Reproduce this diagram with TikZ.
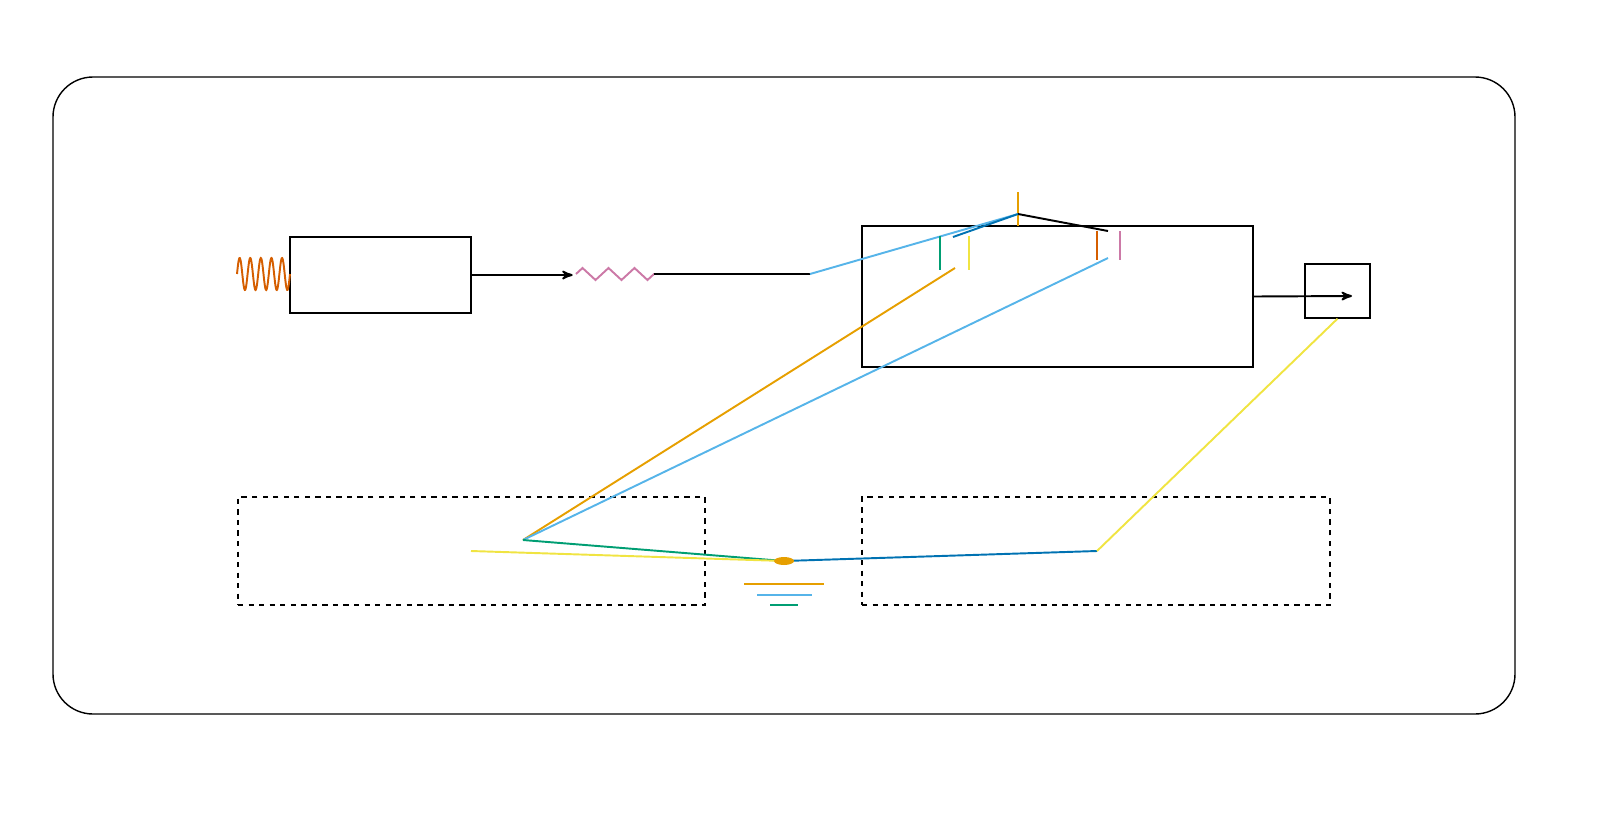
\documentclass[tikz,border=0pt]{standalone}
\usetikzlibrary{arrows,decorations.pathmorphing}
\definecolor{cOrange}{RGB}{213,94,0}
\definecolor{cGold}{RGB}{230,159,0}
\definecolor{cSky}{RGB}{86,180,233}
\definecolor{cGreen}{RGB}{0,158,115}
\definecolor{cYellow}{RGB}{240,228,66}
\definecolor{cBlue}{RGB}{0,114,178}
\definecolor{cPink}{RGB}{204,121,167}
\begin{document}
\begin{tikzpicture}[x=0.02cm,y=-0.02cm,>=stealth',line width=1.2pt]
\tikzset{
    blk/.style={%
        draw, thick,
        rectangle,
        inner sep=0pt
        },
    grp/.style={%
        draw, dashed, line width=0.7pt,
        rectangle,
        inner sep=0pt
        },
    wire/.style={line width=1.1pt},
}
\useasboundingbox (0,0) rectangle (1620,819);
%%%FRAME
\draw[line width=0.8pt, rounded corners=0.8cm] (53,77) rectangle (1515,714);
%%%BLOCKS
\node[blk, minimum width=3.62cm, minimum height=1.52cm] (src) at (380.5,275) {};
\node[blk, minimum width=7.82cm, minimum height=2.82cm] (mix) at (1057.5,296.5) {};
\node[blk, minimum width=1.3cm, minimum height=1.08cm] (out) at (1337.5,291) {};
\node[grp, minimum width=9.34cm, minimum height=2.16cm] (g1) at (471.5,551) {};
\node[grp, minimum width=9.36cm, minimum height=2.16cm] (g2) at (1096,551) {};
%%%POINTS
\coordinate (coil) at (237,274);
\coordinate (rin) at (576,274);
\coordinate (rout) at (654,274);
\coordinate (tap) at (810,274);
\coordinate (piv) at (1018,214);
\coordinate (arm) at (1108,231);
\coordinate (blade) at (953,237);
\coordinate (hubA) at (523,540);
\coordinate (gnd) at (784,561);
\coordinate (hubB) at (1097,551);
\coordinate (yl) at (471,551);
%%%COIL AND RESISTOR
\draw[cOrange, wire, domain=0:53, samples=150, smooth]
  plot ({237+\x}, {274-16*sin(\x*33.96)});
\draw[->, wire] (src.east) -- ++(101,0);
\draw[cPink, wire, decorate, decoration={zigzag, segment length=0.52cm, amplitude=0.12cm}] (rin) -- (rout);
\draw[wire] (rout) -- (tap);
%%%SWITCH
\draw[cSky, wire] (tap) -- (piv);
\draw[cGold, wire] (1018,192) -- (1018,226);
\draw[wire] (piv) -- (arm);
\draw[cBlue, wire] (blade) -- (piv);
\draw[cGreen, wire] (940,236) -- (940,270);
\draw[cYellow, wire] (969,236) -- (969,270);
\draw[cOrange, wire] (1097,231) -- (1097,260);
\draw[cPink, wire] (1120,231) -- (1120,260);
%%%LINKS
\draw[cGold, wire] (955,268) -- (hubA);
\draw[cSky, wire] (1108,258) -- (hubA);
\draw[cGreen, wire] (hubA) -- (gnd);
\draw[cYellow, wire] (yl) -- (gnd);
\draw[cBlue, wire] (gnd) -- (hubB);
\draw[cYellow, wire] (hubB) -- (out.south);
\fill[cGold] (gnd) ellipse (10 and 4);
%%%GROUND
\draw[cGold, wire] (744,584) -- (824,584);
\draw[cSky, wire] (757,595) -- (812,595);
\draw[cGreen, wire] (770,605) -- (798,605);
%%%OUTPUT
\draw[->, wire] (mix.east) -- (1352,296);
\end{tikzpicture}
\end{document}
